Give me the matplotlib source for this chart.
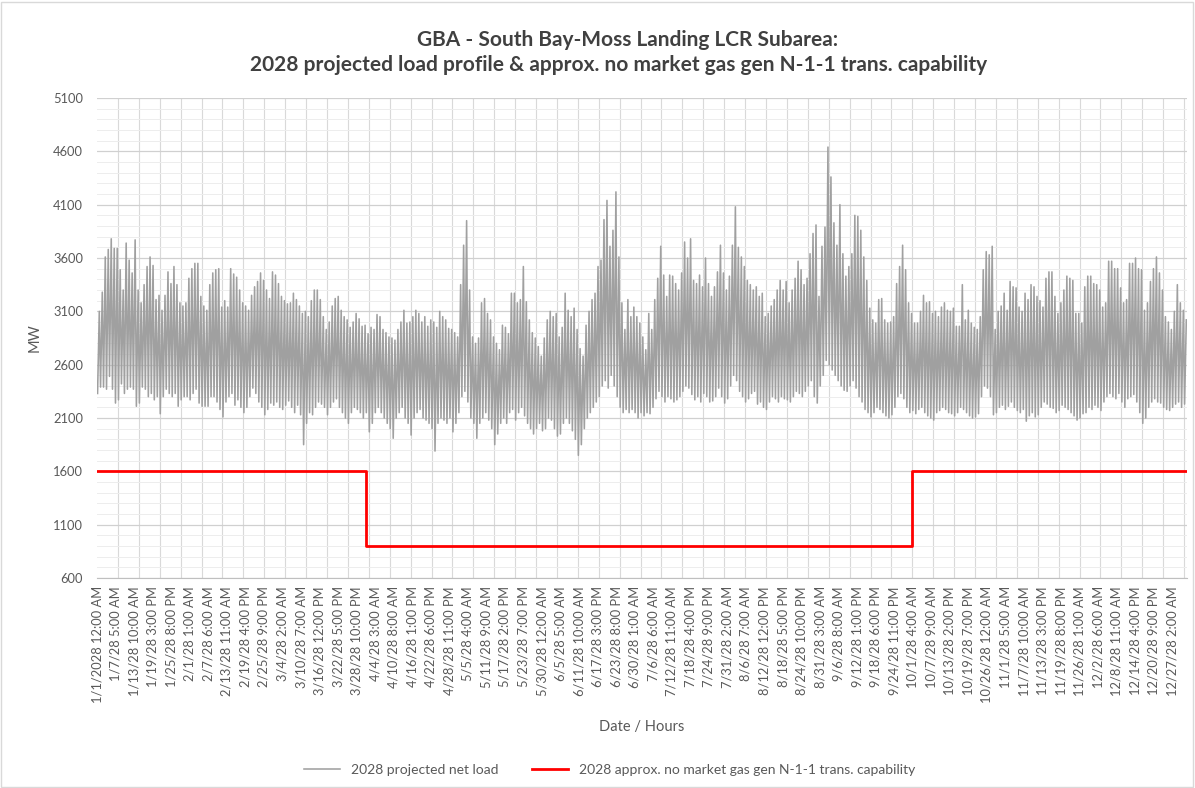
import numpy as np
import matplotlib
matplotlib.use("Agg")
import matplotlib.pyplot as plt
from matplotlib.patches import Rectangle

plt.rcParams['font.family'] = ['Lato', 'DejaVu Sans']

# daily minimum / maximum of the projected net load (MW), one value per day, Jan 1 .. Dec 31
daily_low = [
    2330, 2390, 2390, 2370, 2490, 2370, 2240, 2270, 2420, 2330, 2370, 2390, 2370, 2210, 2240, 2390, 2370, 2300, 2330, 2270,
    2300, 2140, 2300, 2370, 2330, 2300, 2330, 2210, 2270, 2300, 2300, 2270, 2330, 2370, 2240, 2210, 2210,
    2210, 2300, 2300, 2250, 2180, 2110, 2250, 2300, 2330, 2220, 2270, 2200, 2150, 2200, 2300, 2380, 2330, 2250, 2200, 2130,
    2180, 2240, 2220, 2250, 2200, 2180, 2220, 2260, 2200, 2150, 2220, 2130, 1850, 2050, 2150, 2130, 2200,
    2250, 2230, 2200, 2130, 2200, 2250, 2280, 2200, 2150, 2100, 2050, 2150, 2200, 2180, 2150, 2100, 2150, 1970, 2050, 2150,
    2200, 2150, 2100, 2050, 2000, 1910, 2100, 2150, 2200, 2100, 2050, 1940, 2100, 2150, 2180, 2100, 2080,
    2050, 2000, 1790, 2050, 2100, 2080, 2050, 2100, 1970, 2050, 2150, 2300, 2350, 2250, 2100, 2050, 1910, 2050, 2100, 2150,
    2080, 2000, 1850, 1950, 2050, 2100, 2050, 2150, 2180, 2080, 2150, 2200, 2120, 2050, 2000, 1950, 2000,
    2050, 1980, 2000, 2100, 2080, 2000, 1930, 1950, 2050, 2100, 2050, 1980, 1900, 1750, 1850, 2000, 2100, 2150, 2200, 2250,
    2300, 2400, 2450, 2380, 2500, 2400, 2300, 2200, 2150, 2180, 2150, 2180, 2150, 2100, 2150, 2120,
    2150, 2140, 2200, 2280, 2350, 2300, 2250, 2300, 2280, 2250, 2270, 2300, 2350, 2400, 2380, 2320, 2270, 2300, 2250, 2330,
    2300, 2250, 2260, 2300, 2380, 2300, 2240, 2280, 2400, 2500, 2450, 2350, 2300, 2250, 2280, 2330, 2350, 2230,
    2250, 2200, 2180, 2250, 2300, 2280, 2250, 2300, 2280, 2270, 2250, 2300, 2350, 2330, 2300, 2350, 2400, 2450, 2300, 2240,
    2400, 2500, 2640, 2600, 2550, 2500, 2450, 2400, 2360, 2350, 2400, 2450, 2380, 2300, 2250, 2180,
    2150, 2110, 2150, 2200, 2180, 2150, 2120, 2100, 2130, 2200, 2300, 2330, 2280, 2200, 2150, 2170, 2140, 2180, 2200, 2150,
    2120, 2100, 2080, 2150, 2170, 2200, 2180, 2150, 2140, 2120, 2150, 2200, 2180, 2150, 2120, 2100, 2110,
    2140, 2300, 2400, 2380, 2300, 2130, 2150, 2200, 2220, 2180, 2210, 2250, 2200, 2170, 2150, 2180, 2070, 2120, 2150, 2110,
    2130, 2200, 2250, 2230, 2200, 2190, 2150, 2170, 2220, 2200, 2180, 2150, 2120, 2080, 2100, 2140, 2150,
    2200, 2180, 2220, 2200, 2170, 2250, 2300, 2330, 2300, 2280, 2330, 2250, 2200, 2280, 2300, 2320, 2250, 2150, 2050, 2100,
    2200, 2250, 2280, 2250, 2240, 2200, 2180, 2170, 2200, 2230, 2250, 2200, 2230,
]
daily_peak = [
    3100, 3280, 3610, 3680, 3780, 3690, 3690, 3490, 3300, 3740, 3580, 3460, 3770, 3300, 3180, 3350, 3520, 3610, 3530, 3210,
    3250, 3110, 3250, 3470, 3360, 3520, 3350, 3180, 3150, 3180, 3410, 3500, 3550, 3550, 3240, 3150, 3110,
    3350, 3460, 3490, 3500, 3140, 3200, 3140, 3500, 3450, 3420, 3300, 3180, 3150, 3110, 3250, 3330, 3380, 3460, 3390, 3300,
    3220, 3470, 3440, 3360, 3240, 3200, 3170, 3180, 3270, 3210, 3150, 3080, 3100, 3050, 3200, 3300, 3300,
    3210, 3050, 2930, 3000, 3150, 3220, 3240, 3110, 3050, 3020, 2950, 3000, 3080, 3030, 2960, 2970, 2890, 2950, 2930, 3070,
    3050, 2930, 2900, 2860, 2850, 2830, 2930, 3000, 3110, 2990, 3000, 3050, 3110, 3080, 3000, 3050, 2960,
    3020, 3000, 2950, 3100, 3050, 3020, 2940, 2930, 2900, 2860, 3350, 3720, 3950, 3300, 2860, 2800, 2850, 3180, 3220, 3080,
    3020, 2860, 2800, 2740, 2970, 2950, 2890, 3270, 3270, 3180, 3210, 3520, 3190, 3020, 2900, 2850, 2770,
    2680, 2850, 3020, 3100, 3050, 3080, 2860, 2950, 3270, 3110, 3050, 3130, 2930, 2750, 2680, 2970, 3100, 3210, 3270, 3520,
    3580, 3960, 4140, 3710, 3860, 4220, 3610, 3180, 2930, 3210, 3050, 3140, 3050, 2990, 2860, 2740,
    3080, 2930, 3210, 3410, 3710, 3440, 3240, 3440, 3430, 3360, 3300, 3460, 3750, 3600, 3780, 3390, 3360, 3440, 3330, 3600,
    3360, 3240, 3330, 3470, 3720, 3460, 3300, 3430, 3720, 4080, 3700, 3610, 3520, 3390, 3350, 3300, 3330, 3240,
    3270, 3050, 3080, 3150, 3210, 3300, 3390, 3300, 3380, 3180, 3300, 3410, 3570, 3490, 3350, 3410, 3640, 3830, 3910, 3240,
    3710, 3890, 4640, 4360, 3930, 3720, 4100, 3640, 3430, 3520, 3640, 4000, 3990, 3860, 3610, 3390,
    3130, 3020, 2990, 3210, 3220, 3020, 2990, 3000, 3050, 3360, 3520, 3720, 3490, 3180, 3080, 2990, 2990, 3100, 3250, 3180,
    3190, 3080, 3100, 3050, 3140, 3180, 3110, 3100, 3130, 2960, 2960, 3350, 3020, 3110, 2990, 2950, 2930,
    3050, 3490, 3660, 3630, 3710, 2930, 3100, 3150, 3270, 3110, 3380, 3330, 3320, 3140, 3100, 3270, 3210, 3350, 3330, 3240,
    3200, 3140, 3410, 3470, 3470, 3240, 3080, 3180, 3300, 3430, 3410, 3390, 3080, 3080, 2990, 3330, 3430,
    3430, 3360, 3350, 3300, 3140, 3180, 3570, 3570, 3500, 3500, 3320, 3180, 3210, 3550, 3550, 3600, 3500, 3490, 3110, 3180,
    3380, 3500, 3610, 3460, 3300, 3050, 3000, 2930, 3100, 3350, 3180, 3110, 3020,
]

# N-1-1 transmission capability: value holds from each start hour to the next
cap_start_hour = [0, 2160, 6552, 8759]
cap_mw = [1600, 900, 1600, 1600]

n_hours = 8760
label_step = 149
tick_labels = [
    "1/1/2028 12:00 AM", "1/7/28 5:00 AM", "1/13/28 10:00 AM", "1/19/28 3:00 PM", "1/25/28 8:00 PM",
    "2/1/28 1:00 AM", "2/7/28 6:00 AM", "2/13/28 11:00 AM", "2/19/28 4:00 PM", "2/25/28 9:00 PM",
    "3/4/28 2:00 AM", "3/10/28 7:00 AM", "3/16/28 12:00 PM", "3/22/28 5:00 PM", "3/28/28 10:00 PM",
    "4/4/28 3:00 AM", "4/10/28 8:00 AM", "4/16/28 1:00 PM", "4/22/28 6:00 PM", "4/28/28 11:00 PM",
    "5/5/28 4:00 AM", "5/11/28 9:00 AM", "5/17/28 2:00 PM", "5/23/28 7:00 PM", "5/30/28 12:00 AM",
    "6/5/28 5:00 AM", "6/11/28 10:00 AM", "6/17/28 3:00 PM", "6/23/28 8:00 PM", "6/30/28 1:00 AM",
    "7/6/28 6:00 AM", "7/12/28 11:00 AM", "7/18/28 4:00 PM", "7/24/28 9:00 PM", "7/31/28 2:00 AM",
    "8/6/28 7:00 AM", "8/12/28 12:00 PM", "8/18/28 5:00 PM", "8/24/28 10:00 PM", "8/31/28 3:00 AM",
    "9/6/28 8:00 AM", "9/12/28 1:00 PM", "9/18/28 6:00 PM", "9/24/28 11:00 PM", "10/1/28 4:00 AM",
    "10/7/28 9:00 AM", "10/13/28 2:00 PM", "10/19/28 7:00 PM", "10/26/28 12:00 AM", "11/1/28 5:00 AM",
    "11/7/28 10:00 AM", "11/13/28 3:00 PM", "11/19/28 8:00 PM", "11/26/28 1:00 AM", "12/2/28 6:00 AM",
    "12/8/28 11:00 AM", "12/14/28 4:00 PM", "12/20/28 9:00 PM", "12/27/28 2:00 AM",
]

# night minimum around 4 AM, evening maximum around 6 PM
days = np.arange(len(daily_peak))
t = np.column_stack([days * 24 + 4, days * 24 + 18]).ravel()
load = np.column_stack([daily_low, daily_peak]).ravel()

txt = '#595959'
fig = plt.figure(figsize=(11.95, 7.88), dpi=100)
ax = fig.add_axes([97 / 1195, 1 - 578 / 788, 1090 / 1195, 480 / 788])

ax.plot(t, load, color='#A0A0A0', lw=1.15, label='2028 projected net load')
ax.plot(cap_start_hour, cap_mw, drawstyle='steps-post', color='#FF0000', lw=2.0,
        label='2028 approx. no market gas gen N-1-1 trans. capability')

ax.set_xlim(-0.5, n_hours - 0.5)
ax.set_ylim(600, 5100)
ax.set_yticks(np.arange(600, 5101, 500))
ax.set_yticks(np.arange(600, 5101, 100), minor=True)
ax.set_xticks(np.arange(len(tick_labels)) * label_step)
ax.set_xticklabels(tick_labels, rotation=90)
ax.set_xticks(np.arange(0, n_hours, 168), minor=True)

ax.set_axisbelow(True)
ax.grid(axis='y', which='major', color='#D0D0D0', lw=0.9)
ax.grid(axis='y', which='minor', color='#EDEDED', lw=0.7)
ax.grid(axis='x', which='minor', color='#D9D9D9', lw=0.8)
ax.grid(axis='x', which='major', visible=False)
for s in ['top', 'right', 'left']:
    ax.spines[s].set_visible(False)
ax.spines['bottom'].set_color('#BFBFBF')
ax.tick_params(which='both', length=0)
ax.tick_params(axis='both', labelsize=9.3, labelcolor=txt)
ax.tick_params(axis='x', pad=6)
ax.tick_params(axis='y', pad=10)

ax.set_ylabel('MW', fontsize=10.5, color=txt, labelpad=8)
ax.set_xlabel('Date / Hours', fontsize=10.5, color=txt, labelpad=12)

fig.text(0.5255, 0.949, 'GBA - South Bay-Moss Landing LCR Subarea:', ha='center', va='center',
         fontsize=15, fontweight='bold', color='#404040')
fig.text(0.518, 0.917, '2028 projected load profile & approx. no market gas gen N-1-1 trans. capability',
         ha='center', va='center', fontsize=15, fontweight='bold', color='#404040')

fig.legend(loc='center', bbox_to_anchor=(0.51, 0.023), ncol=2, frameon=False, fontsize=10,
           labelcolor=txt, handlelength=2.6, columnspacing=2.4)

fig.patches.append(Rectangle((0.001, 0.001), 0.997, 0.997, transform=fig.transFigure,
                             fill=False, edgecolor='#D9D9D9', lw=1))

fig.savefig('out.png', dpi=100)
